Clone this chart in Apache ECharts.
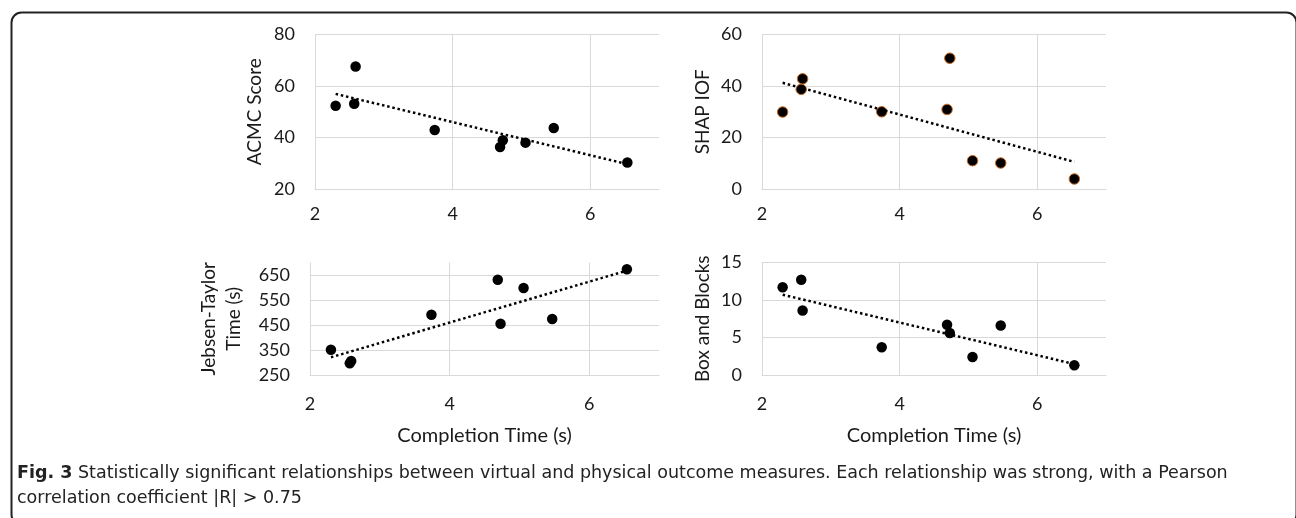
<!DOCTYPE html>
<html>
<head>
<meta charset="utf-8">
<script src="https://cdn.jsdelivr.net/npm/echarts@6/dist/echarts.min.js"></script>
<style>
html,body{margin:0;padding:0;background:#fff;}
#chart{width:1296px;height:518px;}
</style>
</head>
<body>
<div id="chart"></div>
<script>
// ---- data ----
const completionTime = [2.30, 2.57, 2.59, 3.74, 4.69, 4.73, 5.06, 5.47, 6.54];
const acmcScore     = [52.3, 53.1, 67.6, 42.9, 36.3, 38.9, 38.0, 43.7, 30.3];
const shapIOF       = [29.9, 38.7, 42.8, 30.0, 30.9, 50.8, 11.0, 10.1, 3.9];
const jebsenTaylor  = [351, 297, 306, 491, 631, 455, 598, 474, 673];
const boxBlocks     = [11.7, 12.7, 8.6, 3.7, 6.7, 5.6, 2.4, 6.6, 1.3];

const xTickLabels   = [2, 4, 6];
const acmcTicks     = [20, 40, 60, 80];
const shapTicks     = [0, 20, 40, 60];
const jebsenTicks   = [250, 350, 450, 550, 650];
const boxTicks      = [0, 5, 10, 15];

const xAxisTitle = 'Completion Time (s)';
const yTitles = ['ACMC Score', 'SHAP IOF', 'Jebsen-Taylor\nTime (s)', 'Box and Blocks'];
const captionBold = 'Fig. 3';
const captionLine1 = ' Statistically significant relationships between virtual and physical outcome measures. Each relationship was strong, with a Pearson';
const captionLine2 = 'correlation coefficient |R| > 0.75';

// ---- helpers ----
function pairs(xs, ys) { return xs.map((x, i) => [x, ys[i]]); }
function trend(xs, ys) {
  const n = xs.length;
  const mx = xs.reduce((a, b) => a + b, 0) / n;
  const my = ys.reduce((a, b) => a + b, 0) / n;
  let sxy = 0, sxx = 0;
  for (let i = 0; i < n; i++) { sxy += (xs[i] - mx) * (ys[i] - my); sxx += (xs[i] - mx) ** 2; }
  const b = sxy / sxx, a = my - b * mx;
  const x0 = Math.min(...xs), x1 = Math.max(...xs);
  return [[x0, a + b * x0], [x1, a + b * x1]];
}

const FONT = 'Lato';
const CAPFONT = 'DejaVu Sans';
const TXT = '#1a1a1a';
const GRIDC = '#d9d9d9';

const grids = [
  { left: 315, top: 34.5, width: 344, height: 154.5 },
  { left: 762, top: 34.5, width: 344, height: 154.5 },
  { left: 310, top: 262.5, width: 349, height: 112.5 },
  { left: 762, top: 262.5, width: 344, height: 112.5 }
];

function xAxis(i, showName) {
  return {
    type: 'value', gridIndex: i, min: 2, max: 7, interval: 2,
    axisLine: { show: true, lineStyle: { color: GRIDC, width: 1 } },
    axisTick: { show: false },
    splitLine: { show: true, showMaxLine: false, lineStyle: { color: GRIDC, width: 1 } },
    axisLabel: {
      show: true, margin: showName ? 20 : 16, color: TXT, fontFamily: FONT, fontSize: 18,
      formatter: v => xTickLabels.includes(v) ? String(v) : ''
    },
    name: showName ? xAxisTitle : '', nameLocation: 'middle', nameGap: 51,
    nameTextStyle: { color: TXT, fontFamily: FONT, fontSize: 20 }
  };
}
function yAxis(i, min, max, interval, ticks, title, gap) {
  const topIsTick = ticks.includes(max);
  return {
    type: 'value', gridIndex: i, min: min, max: max, interval: interval,
    axisLine: { show: false },
    axisTick: { show: false },
    splitLine: { show: true, showMaxLine: topIsTick, lineStyle: { color: GRIDC, width: 1 } },
    axisLabel: {
      show: true, margin: 20, color: TXT, fontFamily: FONT, fontSize: 18,
      formatter: v => ticks.includes(v) ? String(v) : ''
    },
    name: title, nameLocation: 'middle', nameGap: gap, nameRotate: 90,
    nameTextStyle: { color: TXT, fontFamily: FONT, fontSize: 19, lineHeight: 25, align: 'center' }
  };
}

const sets = [acmcScore, shapIOF, jebsenTaylor, boxBlocks];
const series = [];
sets.forEach((ys, i) => {
  series.push({
    type: 'line', xAxisIndex: i, yAxisIndex: i, data: trend(completionTime, ys),
    symbol: 'none', silent: true, z: 3,
    lineStyle: { color: '#000', width: 2.5, type: [2.5, 2.8], cap: 'butt' }
  });
  series.push({
    type: 'scatter', xAxisIndex: i, yAxisIndex: i, data: pairs(completionTime, ys),
    symbol: 'circle', symbolSize: 10.5, z: 2,
    itemStyle: i === 1
      ? { color: '#000', opacity: 1, borderColor: '#c9691f', borderWidth: 1 }
      : { color: '#000', opacity: 1 }
  });
});

const chart = echarts.init(document.getElementById('chart'), null, { renderer: 'canvas' });
chart.setOption({
  animation: false,
  backgroundColor: '#fff',
  grid: grids.map(g => Object.assign({ containLabel: false, show: false }, g)),
  xAxis: [xAxis(0, false), xAxis(1, false), xAxis(2, true), xAxis(3, true)],
  yAxis: [
    yAxis(0, 20, 80, 20, acmcTicks, yTitles[0], 48),
    yAxis(1, 0, 60, 20, shapTicks, yTitles[1], 47),
    yAxis(2, 250, 700, 100, jebsenTicks, yTitles[2], 64),
    yAxis(3, 0, 15, 5, boxTicks, yTitles[3], 47)
  ],
  series: series,
  graphic: [
    {
      type: 'rect', left: 9, top: 10, silent: true, z: -1,
      shape: { width: 1285, height: 512, r: 10 },
      style: { fill: 'none', stroke: '#222', lineWidth: 2 }
    },
    {
      type: 'text', left: 17, top: 461, silent: true,
      style: {
        text: '{b|' + captionBold + '}' + captionLine1 + '\n' + captionLine2,
        font: '17.5px "DejaVu Sans"', fill: '#222', lineHeight: 25,
        rich: { b: { fontFamily: CAPFONT, fontWeight: 'bold', fontSize: 17.5, fill: '#222' } }
      }
    }
  ]
});
</script>
</body>
</html>
